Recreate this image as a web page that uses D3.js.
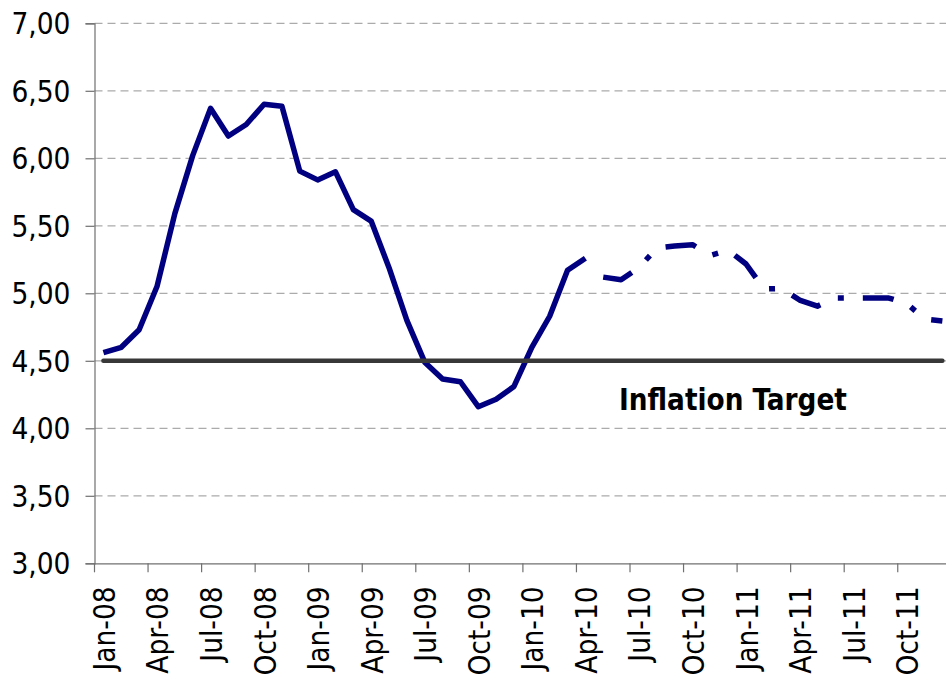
<!DOCTYPE html>
<html>
<head>
<meta charset="utf-8">
<script src="https://cdn.jsdelivr.net/npm/d3@7"></script>
<style>
  html, body { margin: 0; padding: 0; background: #fff; overflow: hidden; }
  svg { display: block; }
</style>
</head>
<body>
<svg id="chart" width="946" height="678"></svg>
<script>
// ---- Data ----
const months = [
  "Jan-08","Feb-08","Mar-08","Apr-08","May-08","Jun-08","Jul-08","Aug-08","Sep-08","Oct-08","Nov-08","Dec-08",
  "Jan-09","Feb-09","Mar-09","Apr-09","May-09","Jun-09","Jul-09","Aug-09","Sep-09","Oct-09","Nov-09","Dec-09",
  "Jan-10","Feb-10","Mar-10","Apr-10","May-10","Jun-10","Jul-10","Aug-10","Sep-10","Oct-10","Nov-10","Dec-10",
  "Jan-11","Feb-11","Mar-11","Apr-11","May-11","Jun-11","Jul-11","Aug-11","Sep-11","Oct-11","Nov-11","Dec-11"
];
// Actual inflation (Jan-08 .. Apr-10)
const actualValues = [
  4.56, 4.60, 4.73, 5.05, 5.59, 6.02, 6.37, 6.165, 6.25, 6.40, 6.385, 5.905,
  5.84, 5.90, 5.62, 5.535, 5.19, 4.80, 4.49, 4.365, 4.345, 4.16, 4.215, 4.31,
  4.60, 4.83, 5.17, 5.26
];
// Forecast (May-10 .. Dec-11)
const forecastStart = 28;
const forecastValues = [
  5.12, 5.10, 5.19, 5.335, 5.35, 5.36, 5.28, 5.32,
  5.217, 5.032, 5.036, 4.95, 4.905, 4.965, 4.965, 4.965, 4.965, 4.925, 4.81, 4.795
];
const targetValue = 4.50;
const targetLabel = "Inflation Target";
const yTicks = [3.0, 3.5, 4.0, 4.5, 5.0, 5.5, 6.0, 6.5, 7.0];
const xTickLabels = months.filter((m, i) => i % 3 === 0);

// ---- Layout ----
const svg = d3.select("#chart");
const pLeft = 94.5, pRight = 951.3, pTop = 23.3, pBottom = 563.3;

const x = d3.scaleBand().domain(months).range([pLeft, pRight]).paddingInner(0).paddingOuter(0);
const bw = x.bandwidth();
const cx = m => x(m) + bw / 2;
const y = d3.scaleLinear().domain([3, 7]).range([pBottom, pTop]);

const font = "'DejaVu Sans Condensed', 'DejaVu Sans', Tahoma, Verdana, sans-serif";

// Gridlines
svg.append("g").selectAll("line").data(yTicks.filter(v => v > 3)).join("line")
  .attr("x1", pLeft).attr("x2", 946)
  .attr("y1", d => y(d)).attr("y2", d => y(d))
  .attr("stroke", "#ababab").attr("stroke-width", 1.2)
  .attr("stroke-dasharray", "8,5");

// Y axis
const yAxis = svg.append("g").attr("transform", `translate(${pLeft},0)`)
  .call(d3.axisLeft(y).tickValues(yTicks).tickSize(9).tickPadding(15)
    .tickFormat(d => d.toFixed(2).replace(".", ",")));
yAxis.select(".domain").attr("stroke", "#707070").attr("stroke-width", 1.2);
yAxis.selectAll(".tick line").attr("stroke", "#707070").attr("stroke-width", 1.2);
yAxis.selectAll(".tick text").attr("font-family", font).attr("font-size", 29.5)
  .attr("fill", "#000").attr("dy", "0.36em");

// X axis
const xAxis = svg.append("g").attr("transform", `translate(0,${pBottom})`)
  .call(d3.axisBottom(x).tickValues(xTickLabels).tickSize(9).tickSizeOuter(0));
xAxis.select(".domain").attr("stroke", "#707070").attr("stroke-width", 1.2)
  .attr("d", `M${pLeft},0.5H${pRight}`);
xAxis.selectAll(".tick line").attr("stroke", "#707070").attr("stroke-width", 1.2)
  .attr("x1", -bw / 2).attr("x2", -bw / 2);
xAxis.selectAll(".tick text")
  .attr("font-family", font).attr("font-size", 29.5).attr("fill", "#000")
  .attr("text-anchor", "end")
  .attr("x", 0).attr("y", 0).attr("dy", 0)
  .attr("transform", "translate(11.5,23) rotate(-90)");

// Lines
const line = d3.line().x(d => cx(d.m)).y(d => y(d.v));
const actual = actualValues.map((v, i) => ({ m: months[i], v }));
const forecast = forecastValues.map((v, i) => ({ m: months[forecastStart + i], v }));

svg.append("path").datum(actual).attr("d", line)
  .attr("fill", "none").attr("stroke", "#000080").attr("stroke-width", 5.5)
  .attr("stroke-linejoin", "round");

svg.append("path").datum(forecast).attr("d", line)
  .attr("fill", "none").attr("stroke", "#000080").attr("stroke-width", 5.5)
  .attr("stroke-linejoin", "round")
  .attr("stroke-dasharray", "31,19,6,19");

// Target line
svg.append("path").datum(months.map(m => ({ m, v: targetValue }))).attr("d", line)
  .attr("fill", "none").attr("stroke", "#383838").attr("stroke-width", 4.5)
  .attr("stroke-linecap", "round");

svg.append("text").attr("x", 619).attr("y", 410)
  .attr("font-family", font).attr("font-weight", "bold").attr("font-size", 29.3)
  .attr("fill", "#000").text(targetLabel);
</script>
</body>
</html>
